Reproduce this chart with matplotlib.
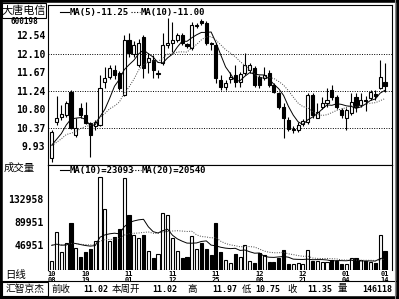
import numpy as np
import pandas as pd
import matplotlib
matplotlib.use('Agg')
import matplotlib.pyplot as plt
from matplotlib.lines import Line2D
from matplotlib.patches import Rectangle

plt.rcParams['font.family'] = ['Noto Sans CJK SC', 'DejaVu Sans']

# daily bars 2010-10-08 .. 2011-01-14 (600198)
opens = [9.65, 10.50, 10.62, 10.66, 11.21, 10.19, 10.83, 10.66, 10.47, 10.40,
         10.43, 11.44, 11.56, 11.72, 11.65, 11.14, 12.43, 12.10, 11.84, 12.51,
         11.90, 11.96, 11.62, 11.89, 12.31, 12.36, 12.43, 12.55, 12.33, 12.24,
         12.76, 12.87, 12.83, 12.36, 12.31, 11.49, 11.32, 11.50, 11.61, 11.44,
         11.65, 11.72, 11.77, 11.56, 11.54, 11.65, 11.37, 11.18, 10.85, 10.55,
         10.31, 10.31, 10.45, 10.50, 11.14, 10.59, 10.85, 10.95, 11.25, 11.09,
         10.78, 10.59, 10.71, 11.09, 10.90, 11.02, 11.06, 11.16, 11.30, 11.44]
highs = [10.30, 11.10, 10.90, 11.00, 11.25, 10.59, 10.95, 10.98, 10.50, 10.55,
         11.61, 11.79, 11.84, 11.84, 11.70, 12.55, 12.59, 12.40, 12.45, 12.55,
         12.12, 12.08, 11.72, 12.59, 12.95, 12.85, 12.59, 12.59, 12.36, 12.85,
         12.83, 12.92, 12.87, 12.38, 12.36, 11.61, 11.49, 11.68, 11.84, 11.68,
         12.12, 11.89, 11.82, 11.61, 11.79, 11.72, 11.42, 11.21, 10.95, 10.62,
         10.40, 10.50, 10.57, 11.18, 11.18, 10.95, 11.08, 11.30, 11.37, 11.14,
         10.83, 10.83, 11.18, 11.18, 11.18, 11.10, 11.25, 11.25, 11.97, 11.89]
lows = [9.57, 10.43, 10.55, 10.62, 10.33, 10.15, 10.59, 10.45, 9.68, 10.32,
        10.40, 11.30, 11.50, 11.52, 11.25, 11.10, 12.03, 12.02, 11.80, 11.54,
        11.65, 11.54, 11.54, 11.84, 12.24, 12.15, 12.38, 12.31, 12.24, 12.19,
        12.72, 12.78, 12.31, 12.19, 11.42, 11.25, 11.25, 11.42, 11.32, 11.32,
        11.61, 11.65, 11.32, 11.30, 11.49, 11.32, 11.18, 10.80, 10.12, 10.28,
        10.24, 10.26, 10.40, 10.45, 10.59, 10.59, 10.80, 10.85, 11.02, 10.80,
        10.59, 10.31, 10.66, 10.74, 10.85, 10.75, 11.02, 11.02, 11.28, 11.21]
closes = [10.27, 10.59, 10.68, 10.95, 10.37, 10.36, 10.66, 10.47, 10.19, 10.50,
          11.30, 11.53, 11.77, 11.61, 11.30, 12.43, 12.12, 12.30, 12.36, 11.76,
          12.00, 11.72, 11.66, 12.31, 12.36, 12.43, 12.55, 12.36, 12.29, 12.78,
          12.78, 12.83, 12.36, 12.34, 11.54, 11.32, 11.42, 11.56, 11.44, 11.63,
          11.84, 11.84, 11.37, 11.37, 11.61, 11.37, 11.21, 10.85, 10.59, 10.33,
          10.33, 10.43, 10.52, 11.14, 10.66, 10.74, 10.95, 11.02, 11.09, 10.85,
          10.66, 10.78, 10.96, 10.86, 11.02, 11.00, 11.20, 11.12, 11.56, 11.35]
volumes = [17400, 71600, 34000, 51000, 88500, 41000, 25000, 34000, 39000, 55000,
           174500, 114000, 55000, 62300, 76700, 172000, 102800, 65500, 60000, 65500,
           35000, 22000, 30000, 106600, 103000, 60000, 35000, 22000, 24000, 63600,
           40000, 50000, 40000, 28000, 88500, 34000, 18700, 13000, 30000, 24000,
           47000, 17400, 13600, 31800, 28000, 15500, 15500, 22000, 37400, 11000,
           11000, 13000, 12000, 37400, 17400, 17400, 15500, 15500, 19000, 17400,
           10500, 10500, 22500, 22500, 18800, 17400, 15500, 13000, 65500, 34718]
# days before 10-08, only used to start the moving averages
prev_closes = [9.80, 9.85, 9.95, 10.05, 10.00, 9.90, 10.00, 9.95, 9.65]
prev_volumes = [42000, 46000, 50000, 48000, 52000, 45000, 47000, 51000, 49000, 44000,
                50000, 53000, 47000, 52000, 49000, 46000, 51000, 50000, 45000]

date_idx = [0, 7, 16, 25, 34, 43, 52, 61, 69]
date_labels = ['10\n08', '10\n19', '11\n01', '11\n12', '11\n25', '12\n08', '12\n21', '01\n04', '01\n14']
price_ticks = [12.54, 12.10, 11.67, 11.24, 10.80, 10.37, 9.93]
price_grid = [12.10, 11.24, 10.37]
vol_ticks = [132958, 89951, 46951]
price_legend = ['MA(5)-11.25', 'MA(10)-11.00']
vol_legend = ['MA(10)=23093', 'MA(20)=20540']
week_info = [('前收', '11.02'), ('本周开', '11.02'), ('高', '11.97'),
             ('低', '10.75'), ('收', '11.35'), ('量', '146118')]

W, H = 399, 299
def fx(px):
    return px / W
def fy(py):
    return 1 - py / H

fig = plt.figure(figsize=(3.99, 2.99), dpi=100)
ax = fig.add_axes([fx(48), fy(165), fx(392) - fx(48), fy(5) - fy(165)])
axv = fig.add_axes([fx(48), fy(270), fx(392) - fx(48), fy(165) - fy(270)])

x = np.arange(len(closes))
o = np.array(opens)
c = np.array(closes)
up = c >= o
body_col = np.where(up, 'white', 'black')

# candles
ax.vlines(x, lows, highs, color='black', lw=0.8, zorder=2)
ax.bar(x, np.abs(c - o), bottom=np.minimum(o, c), width=0.64,
       color=body_col, edgecolor='black', lw=0.8, zorder=3)

all_c = pd.Series(prev_closes + closes)
ma5 = all_c.rolling(5).mean().values[len(prev_closes):]
ma10 = all_c.rolling(10).mean().values[len(prev_closes):]
ax.plot(x, ma5, color='black', lw=0.7, zorder=4)
ax.plot(x, ma10, color='#444444', lw=0.7, ls=(0, (1, 1.5)), zorder=4)

for g in price_grid:
    ax.axhline(g, color='black', lw=0.7, ls=(0, (1, 1.5)), zorder=1)

ax.set_xlim(-0.77, 70.45)
ax.set_ylim(9.488, 13.253)
ax.set_yticks(price_ticks)
ax.set_yticklabels([f'{t:.2f}' for t in price_ticks], family='DejaVu Sans Mono',
                   fontsize=7, fontweight='bold')
ax.set_xticks([])
ax.tick_params(axis='y', length=0, pad=2)

# volume
all_v = pd.Series(prev_volumes + volumes)
vma10 = all_v.rolling(10).mean().values[len(prev_volumes):]
vma20 = all_v.rolling(20).mean().values[len(prev_volumes):]
axv.bar(x, volumes, width=0.64, color=body_col, edgecolor='black', lw=0.8, zorder=3)
axv.plot(x, vma10, color='black', lw=0.7, zorder=4)
axv.plot(x, vma20, color='#444444', lw=0.7, ls=(0, (1, 1.5)), zorder=4)
axv.set_xlim(-0.77, 70.45)
axv.set_ylim(0, 196350)
axv.set_yticks(vol_ticks)
axv.set_yticklabels([str(t) for t in vol_ticks], family='DejaVu Sans Mono',
                    fontsize=7, fontweight='bold')
axv.set_xticks(date_idx)
axv.set_xticklabels(date_labels, family='DejaVu Sans Mono', fontsize=5,
                    fontweight='bold', linespacing=0.85)
axv.tick_params(axis='y', length=0, pad=3)
axv.tick_params(axis='x', length=0, pad=1)

for a in (ax, axv):
    for s in a.spines.values():
        s.set_linewidth(0.8)
axv.spines['bottom'].set_visible(False)

# legends on top of each panel
def legend_row(ypx, items):
    for x0, dotted, txt in items:
        fig.add_artist(Line2D([fx(x0), fx(x0 + 9)], [fy(ypx), fy(ypx)], color='black', lw=0.8,
                              ls=(0, (1, 1.5)) if dotted else '-'))
        fig.text(fx(x0 + 10), fy(ypx), txt, family='DejaVu Sans Mono', fontsize=6.5,
                 fontweight='bold', va='center', ha='left')

legend_row(12, [(60, False, price_legend[0]), (131, True, price_legend[1])])
legend_row(170, [(60, False, vol_legend[0]), (132, True, vol_legend[1])])

# left labels
fig.text(fx(24), fy(11), '大唐电信', fontsize=8, ha='center', va='center')
fig.text(fx(24), fy(22), '600198', family='DejaVu Sans Mono', fontsize=5.5,
         fontweight='bold', ha='center', va='center')
fig.add_artist(Rectangle((fx(2), fy(18)), fx(46) - fx(2), fy(3) - fy(18),
                         transform=fig.transFigure, fill=False, lw=0.8, ec='black'))
fig.text(fx(4), fy(168), '成交量', fontsize=7.5, ha='left', va='center')
fig.text(fx(5), fy(275), '日线', fontsize=7.5, ha='left', va='center')

# bottom info row
fig.add_artist(Line2D([0, 1], [fy(281), fy(281)], color='black', lw=0.8))
fig.add_artist(Rectangle((fx(2), fy(296)), fx(48) - fx(2), fy(282) - fy(296),
                         transform=fig.transFigure, fill=False, lw=0.8, ec='black'))
fig.text(fx(25), fy(289), '汇智京杰', fontsize=7, ha='center', va='center')
label_x = [51, 112, 187, 242, 287, 338]
value_x = [83, 152, 212, 255, 307, 362]
for (lab, val), lx, vx in zip(week_info, label_x, value_x):
    fig.text(fx(lx), fy(289), lab, fontsize=6.8, ha='left', va='center')
    fig.text(fx(vx), fy(289), val, family='DejaVu Sans Mono', fontsize=6,
             fontweight='bold', ha='left', va='center')

# outer frame
fig.add_artist(Rectangle((0, 0), 1, 1, transform=fig.transFigure, fill=False, lw=4, ec='black'))
fig.add_artist(Line2D([fx(394.5), fx(394.5)], [0, 1], color='#888888', lw=0.8))

fig.savefig('out.png', dpi=100, facecolor='white')
